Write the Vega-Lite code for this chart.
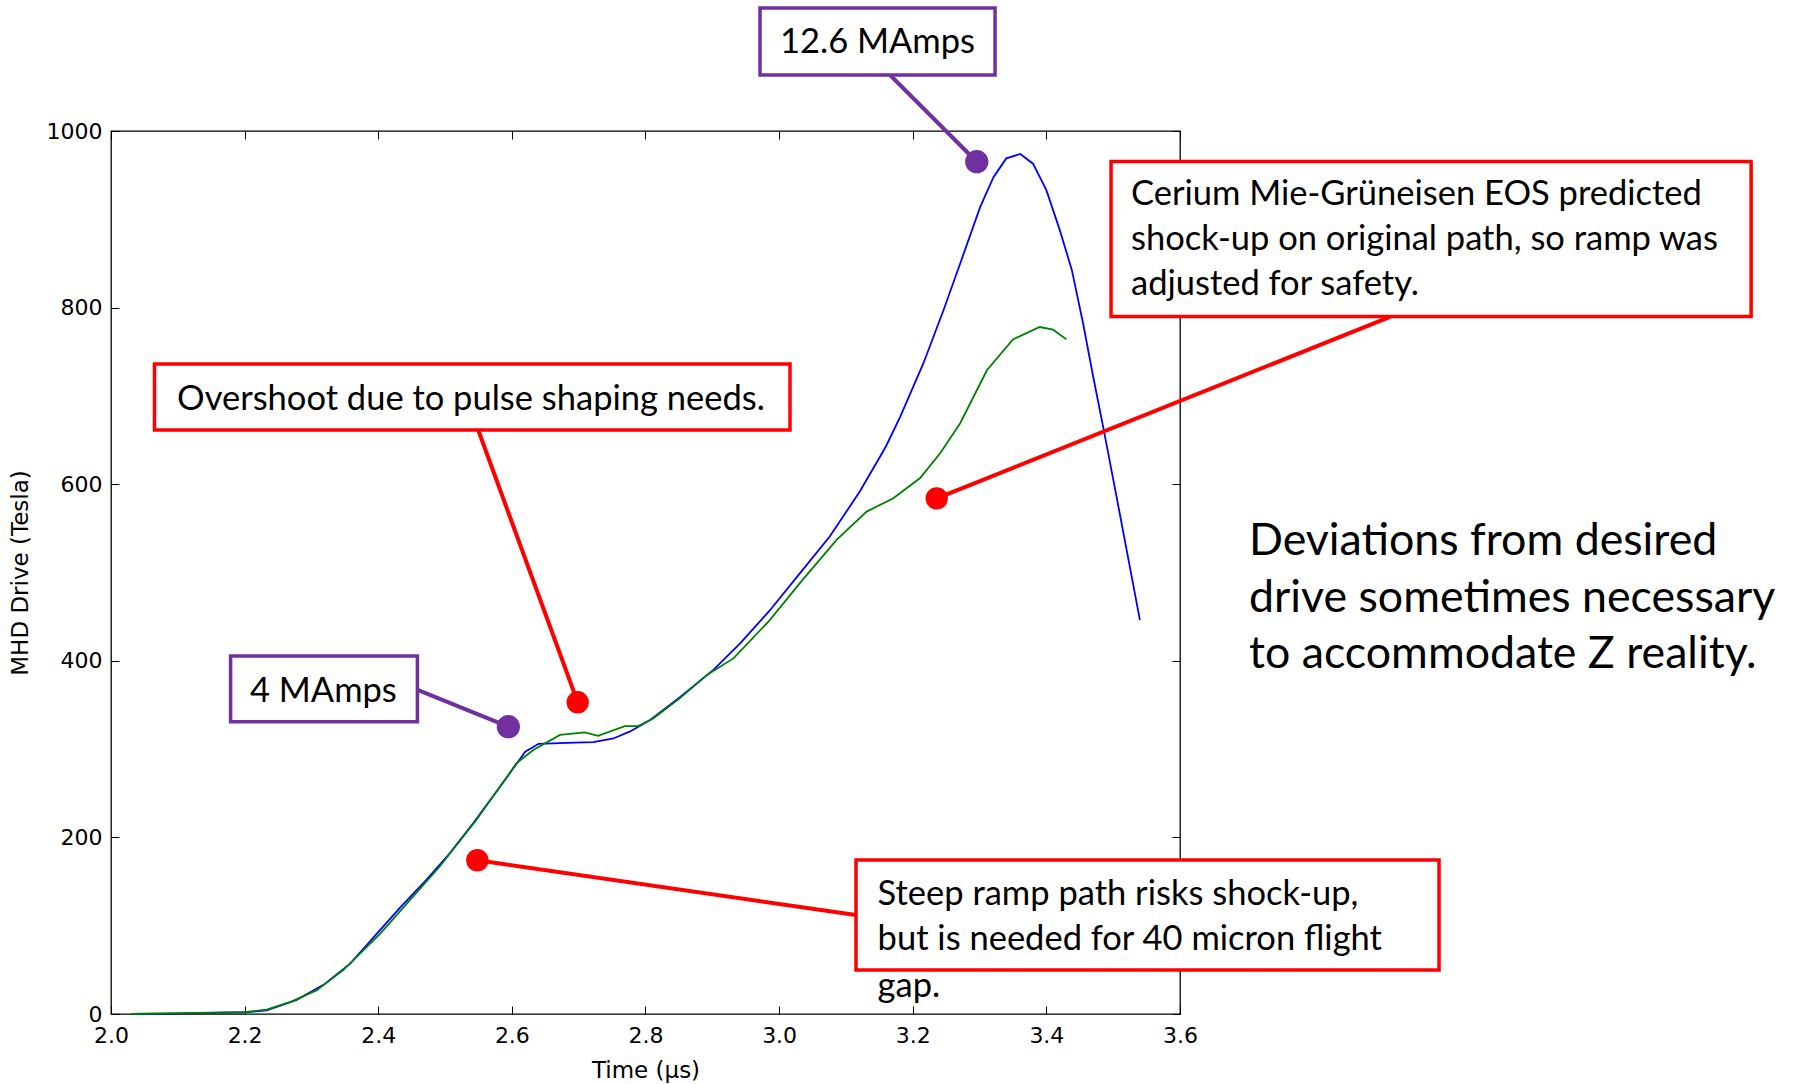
{
  "$schema": "https://vega.github.io/schema/vega-lite/v6.json",
  "width": 1069,
  "height": 883,
  "autosize": {"type": "none"},
  "padding": {"left": 111, "top": 131, "right": 615, "bottom": 70},
  "background": "white",
  "config": {
    "view": {"stroke": "black", "strokeWidth": 1.3},
    "axis": {
      "domain": false, "grid": false,
      "labelFont": "DejaVu Sans", "labelFontSize": 22, "labelColor": "black",
      "tickColor": "black", "tickSize": -8, "tickWidth": 1,
      "titleFont": "DejaVu Sans", "titleFontSize": 23, "titleFontWeight": "normal", "titleColor": "black",
      "labelFlush": false, "labelOverlap": false
    }
  },
  "resolve": {"axis": {"x": "independent", "y": "independent"}},
  "datasets": {
    "curves": [
      {"t": 2.03, "v": 0, "series": "Original drive"},
      {"t": 2.10, "v": 0.5, "series": "Original drive"},
      {"t": 2.20, "v": 2, "series": "Original drive"},
      {"t": 2.233, "v": 4, "series": "Original drive"},
      {"t": 2.278, "v": 16, "series": "Original drive"},
      {"t": 2.318, "v": 33, "series": "Original drive"},
      {"t": 2.358, "v": 57, "series": "Original drive"},
      {"t": 2.398, "v": 91, "series": "Original drive"},
      {"t": 2.432, "v": 120, "series": "Original drive"},
      {"t": 2.472, "v": 152, "series": "Original drive"},
      {"t": 2.507, "v": 182, "series": "Original drive"},
      {"t": 2.542, "v": 216, "series": "Original drive"},
      {"t": 2.582, "v": 257, "series": "Original drive"},
      {"t": 2.620, "v": 297, "series": "Original drive"},
      {"t": 2.640, "v": 306, "series": "Original drive"},
      {"t": 2.682, "v": 307, "series": "Original drive"},
      {"t": 2.722, "v": 308, "series": "Original drive"},
      {"t": 2.752, "v": 312, "series": "Original drive"},
      {"t": 2.777, "v": 320, "series": "Original drive"},
      {"t": 2.807, "v": 333, "series": "Original drive"},
      {"t": 2.852, "v": 359, "series": "Original drive"},
      {"t": 2.902, "v": 390, "series": "Original drive"},
      {"t": 2.942, "v": 420, "series": "Original drive"},
      {"t": 2.986, "v": 457, "series": "Original drive"},
      {"t": 3.031, "v": 499, "series": "Original drive"},
      {"t": 3.076, "v": 541, "series": "Original drive"},
      {"t": 3.121, "v": 592, "series": "Original drive"},
      {"t": 3.151, "v": 631, "series": "Original drive"},
      {"t": 3.160, "v": 643, "series": "Original drive"},
      {"t": 3.181, "v": 676, "series": "Original drive"},
      {"t": 3.216, "v": 737, "series": "Original drive"},
      {"t": 3.246, "v": 797, "series": "Original drive"},
      {"t": 3.271, "v": 850, "series": "Original drive"},
      {"t": 3.301, "v": 914, "series": "Original drive"},
      {"t": 3.321, "v": 948, "series": "Original drive"},
      {"t": 3.340, "v": 969, "series": "Original drive"},
      {"t": 3.361, "v": 974, "series": "Original drive"},
      {"t": 3.380, "v": 963, "series": "Original drive"},
      {"t": 3.400, "v": 933, "series": "Original drive"},
      {"t": 3.420, "v": 888, "series": "Original drive"},
      {"t": 3.438, "v": 843, "series": "Original drive"},
      {"t": 3.455, "v": 782, "series": "Original drive"},
      {"t": 3.470, "v": 722, "series": "Original drive"},
      {"t": 3.485, "v": 665, "series": "Original drive"},
      {"t": 3.505, "v": 586, "series": "Original drive"},
      {"t": 3.540, "v": 446, "series": "Original drive"},
      {"t": 2.03, "v": 0, "series": "Adjusted drive"},
      {"t": 2.10, "v": 1, "series": "Adjusted drive"},
      {"t": 2.20, "v": 2, "series": "Adjusted drive"},
      {"t": 2.233, "v": 5, "series": "Adjusted drive"},
      {"t": 2.27, "v": 14, "series": "Adjusted drive"},
      {"t": 2.308, "v": 27, "series": "Adjusted drive"},
      {"t": 2.348, "v": 50, "series": "Adjusted drive"},
      {"t": 2.403, "v": 91, "series": "Adjusted drive"},
      {"t": 2.452, "v": 133, "series": "Adjusted drive"},
      {"t": 2.492, "v": 167, "series": "Adjusted drive"},
      {"t": 2.547, "v": 220, "series": "Adjusted drive"},
      {"t": 2.607, "v": 284, "series": "Adjusted drive"},
      {"t": 2.632, "v": 299, "series": "Adjusted drive"},
      {"t": 2.672, "v": 316, "series": "Adjusted drive"},
      {"t": 2.709, "v": 319, "series": "Adjusted drive"},
      {"t": 2.729, "v": 315, "series": "Adjusted drive"},
      {"t": 2.769, "v": 326, "series": "Adjusted drive"},
      {"t": 2.789, "v": 326, "series": "Adjusted drive"},
      {"t": 2.812, "v": 335, "series": "Adjusted drive"},
      {"t": 2.852, "v": 358, "series": "Adjusted drive"},
      {"t": 2.892, "v": 384, "series": "Adjusted drive"},
      {"t": 2.932, "v": 403, "series": "Adjusted drive"},
      {"t": 2.986, "v": 446, "series": "Adjusted drive"},
      {"t": 3.031, "v": 488, "series": "Adjusted drive"},
      {"t": 3.086, "v": 537, "series": "Adjusted drive"},
      {"t": 3.131, "v": 569, "series": "Adjusted drive"},
      {"t": 3.171, "v": 584, "series": "Adjusted drive"},
      {"t": 3.211, "v": 607, "series": "Adjusted drive"},
      {"t": 3.241, "v": 635, "series": "Adjusted drive"},
      {"t": 3.271, "v": 669, "series": "Adjusted drive"},
      {"t": 3.311, "v": 729, "series": "Adjusted drive"},
      {"t": 3.350, "v": 764, "series": "Adjusted drive"},
      {"t": 3.390, "v": 778, "series": "Adjusted drive"},
      {"t": 3.410, "v": 775, "series": "Adjusted drive"},
      {"t": 3.430, "v": 764, "series": "Adjusted drive"}
    ],
    "callouts": [
      {"label": "12.6 MAmps", "kind": "current", "dx": 3.2958, "dy": 965.2, "ex": 3.166, "ey": 1063.4},
      {"label": "4 MAmps", "kind": "current", "dx": 2.5947, "dy": 325.4, "ex": 2.4597, "ey": 366.9},
      {"label": "Overshoot", "kind": "caution", "dx": 2.6985, "dy": 353.0, "ex": 2.5496, "ey": 661.4},
      {"label": "Steep ramp", "kind": "caution", "dx": 2.5483, "dy": 174.1, "ex": 3.1148, "ey": 112.1},
      {"label": "Cerium", "kind": "caution", "dx": 3.2359, "dy": 584.0, "ex": 3.9144, "ey": 789.4}
    ],
    "boxes": [
      {"label": "12.6 MAmps", "kind": "current", "x0": 2.9714, "x1": 3.3232, "y0": 1063.4, "y1": 1139.3},
      {"label": "4 MAmps", "kind": "current", "x0": 2.1790, "x1": 2.4586, "y0": 331.0, "y1": 405.4},
      {"label": "Overshoot", "kind": "caution", "x0": 2.0651, "x1": 3.0163, "y0": 661.4, "y1": 736.1},
      {"label": "Cerium", "kind": "caution", "x0": 3.4968, "x1": 4.4548, "y0": 789.9, "y1": 965.4},
      {"label": "Steep ramp", "kind": "caution", "x0": 3.1151, "x1": 3.9877, "y0": 49.8, "y1": 174.4}
    ],
    "texts": [
      {"text": "12.6 MAmps", "group": "center", "x": 3.1472, "y": 1088.0},
      {"text": "4 MAmps", "group": "center", "x": 2.3179, "y": 353.7},
      {"text": "Overshoot due to pulse shaping needs.", "group": "center", "x": 2.5388, "y": 684.0},
      {"text": "Cerium Mie-Grüneisen EOS predicted", "group": "left", "x": 3.5267, "y": 916.2},
      {"text": "shock-up on original path, so ramp was", "group": "left", "x": 3.5267, "y": 865.2},
      {"text": "adjusted for safety.", "group": "left", "x": 3.5267, "y": 814.3},
      {"text": "Steep ramp path risks shock-up,", "group": "left", "x": 3.1474, "y": 123.4},
      {"text": "but is needed for 40 micron flight", "group": "left", "x": 3.1474, "y": 72.5},
      {"text": "gap.", "group": "left", "x": 3.1474, "y": 19.6},
      {"text": "Deviations from desired", "group": "note", "x": 3.7033, "y": 519.8},
      {"text": "drive sometimes necessary", "group": "note", "x": 3.7033, "y": 455.6},
      {"text": "to accommodate Z reality.", "group": "note", "x": 3.7033, "y": 391.8}
    ]
  },
  "layer": [
    {
      "data": {"name": "curves"},
      "mark": {"type": "line", "strokeWidth": 1.8, "clip": false},
      "encoding": {
        "x": {"field": "t", "type": "quantitative",
              "scale": {"domain": [2.0, 3.6], "nice": false, "zero": false},
              "axis": {"orient": "bottom", "values": [2.0, 2.2, 2.4, 2.6, 2.8, 3.0, 3.2, 3.4, 3.6], "format": ".1f",
                       "title": "Time (μs)", "labelPadding": 19, "titlePadding": 13}},
        "y": {"field": "v", "type": "quantitative",
              "scale": {"domain": [0, 1000], "nice": false},
              "axis": {"orient": "left", "values": [0, 200, 400, 600, 800, 1000], "format": "d",
                       "title": "MHD Drive (Tesla)", "labelPadding": 17, "titlePadding": 14}},
        "color": {"field": "series", "type": "nominal",
                  "scale": {"domain": ["Original drive", "Adjusted drive"], "range": ["#0000ff", "#008000"]},
                  "legend": null}
      }
    },
    {
      "data": {"name": "curves"},
      "mark": {"type": "line", "opacity": 0},
      "encoding": {
        "x": {"field": "t", "type": "quantitative",
              "axis": {"orient": "top", "values": [2.0, 2.2, 2.4, 2.6, 2.8, 3.0, 3.2, 3.4, 3.6], "labels": false, "title": null}},
        "y": {"field": "v", "type": "quantitative",
              "axis": {"orient": "right", "values": [0, 200, 400, 600, 800, 1000], "labels": false, "title": null}},
        "detail": {"field": "series"}
      }
    },
    {
      "data": {"name": "callouts"},
      "transform": [{"filter": "datum.kind === 'caution'"}],
      "mark": {"type": "rule", "color": "#ff0000", "strokeWidth": 4},
      "encoding": {
        "x": {"field": "dx", "type": "quantitative", "axis": null},
        "y": {"field": "dy", "type": "quantitative", "axis": null},
        "x2": {"field": "ex"},
        "y2": {"field": "ey"}
      }
    },
    {
      "data": {"name": "callouts"},
      "transform": [{"filter": "datum.kind === 'current'"}],
      "mark": {"type": "rule", "color": "#7030a0", "strokeWidth": 4},
      "encoding": {
        "x": {"field": "dx", "type": "quantitative", "axis": null},
        "y": {"field": "dy", "type": "quantitative", "axis": null},
        "x2": {"field": "ex"},
        "y2": {"field": "ey"}
      }
    },
    {
      "data": {"name": "callouts"},
      "transform": [{"filter": "datum.kind === 'caution'"}],
      "mark": {"type": "circle", "color": "#ff0000", "opacity": 1, "size": 500},
      "encoding": {
        "x": {"field": "dx", "type": "quantitative", "axis": null},
        "y": {"field": "dy", "type": "quantitative", "axis": null}
      }
    },
    {
      "data": {"name": "callouts"},
      "transform": [{"filter": "datum.kind === 'current'"}],
      "mark": {"type": "circle", "color": "#7030a0", "opacity": 1, "size": 540},
      "encoding": {
        "x": {"field": "dx", "type": "quantitative", "axis": null},
        "y": {"field": "dy", "type": "quantitative", "axis": null}
      }
    },
    {
      "data": {"name": "boxes"},
      "transform": [{"filter": "datum.kind === 'caution'"}],
      "mark": {"type": "rect", "fill": "white", "stroke": "#ff0000", "strokeWidth": 3.5},
      "encoding": {
        "x": {"field": "x0", "type": "quantitative", "axis": null},
        "x2": {"field": "x1"},
        "y": {"field": "y0", "type": "quantitative", "axis": null},
        "y2": {"field": "y1"}
      }
    },
    {
      "data": {"name": "boxes"},
      "transform": [{"filter": "datum.kind === 'current'"}],
      "mark": {"type": "rect", "fill": "white", "stroke": "#7030a0", "strokeWidth": 3.5},
      "encoding": {
        "x": {"field": "x0", "type": "quantitative", "axis": null},
        "x2": {"field": "x1"},
        "y": {"field": "y0", "type": "quantitative", "axis": null},
        "y2": {"field": "y1"}
      }
    },
    {
      "data": {"name": "texts"},
      "transform": [{"filter": "datum.group === 'center'"}],
      "mark": {"type": "text", "font": "Lato", "fontSize": 34.5, "align": "center", "baseline": "alphabetic", "color": "black"},
      "encoding": {
        "x": {"field": "x", "type": "quantitative", "axis": null},
        "y": {"field": "y", "type": "quantitative", "axis": null},
        "text": {"field": "text"}
      }
    },
    {
      "data": {"name": "texts"},
      "transform": [{"filter": "datum.group === 'left'"}],
      "mark": {"type": "text", "font": "Lato", "fontSize": 34.5, "align": "left", "baseline": "alphabetic", "color": "black"},
      "encoding": {
        "x": {"field": "x", "type": "quantitative", "axis": null},
        "y": {"field": "y", "type": "quantitative", "axis": null},
        "text": {"field": "text"}
      }
    },
    {
      "data": {"name": "texts"},
      "transform": [{"filter": "datum.group === 'note'"}],
      "mark": {"type": "text", "font": "Lato", "fontSize": 44.7, "align": "left", "baseline": "alphabetic", "color": "black"},
      "encoding": {
        "x": {"field": "x", "type": "quantitative", "axis": null},
        "y": {"field": "y", "type": "quantitative", "axis": null},
        "text": {"field": "text"}
      }
    }
  ]
}
